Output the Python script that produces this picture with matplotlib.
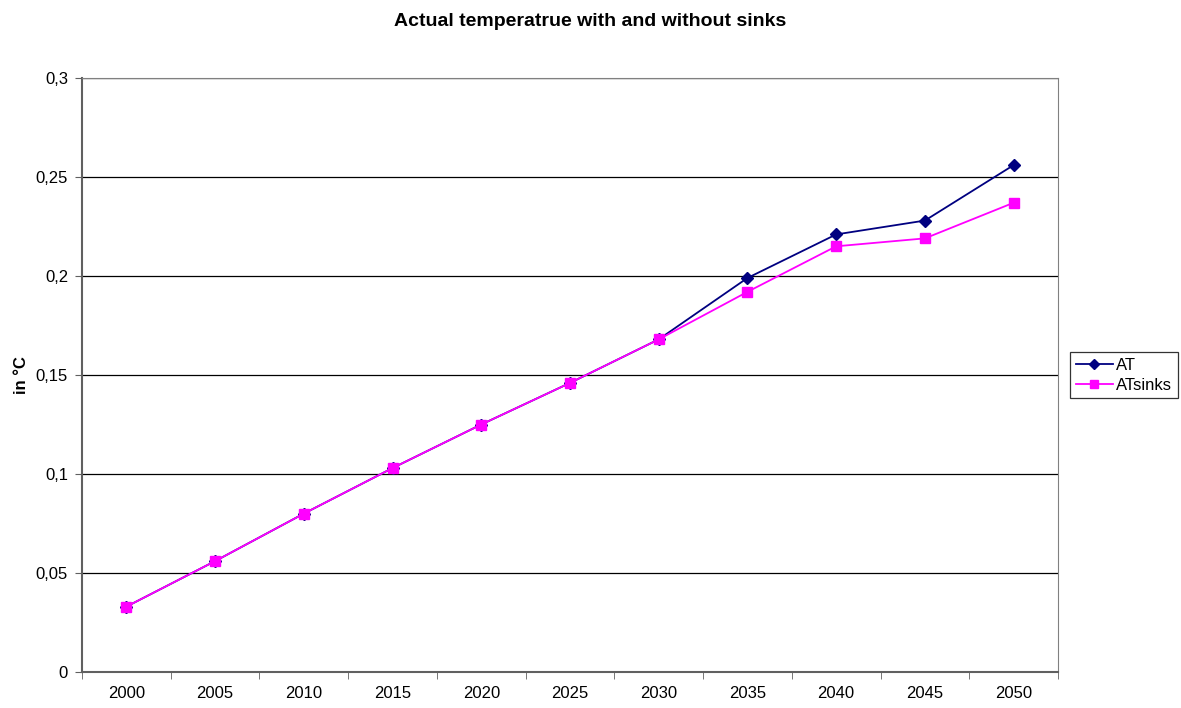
import matplotlib.pyplot as plt
import numpy as np

years = ['2000', '2005', '2010', '2015', '2020', '2025', '2030', '2035', '2040', '2045', '2050']
at = [0.033, 0.056, 0.080, 0.103, 0.125, 0.146, 0.168, 0.199, 0.221, 0.228, 0.256]
at_sinks = [0.033, 0.056, 0.080, 0.103, 0.125, 0.146, 0.168, 0.192, 0.215, 0.219, 0.237]
y_ticks = [0, 0.05, 0.1, 0.15, 0.2, 0.25, 0.3]
y_labels = ['0', '0,05', '0,1', '0,15', '0,2', '0,25', '0,3']

plt.rcParams['font.family'] = ['Liberation Sans', 'DejaVu Sans']

fig = plt.figure(figsize=(11.81, 7.08), dpi=100)
ax = fig.add_axes([82 / 1181, 36 / 708, 976 / 1181, 594 / 708])

x = np.arange(len(years))
ax.plot(x, at, color='#000080', marker='D', markersize=6, linewidth=1.3, label='AT', zorder=3)
ax.plot(x, at_sinks, color='#FF00FF', marker='s', markersize=7, linewidth=1.3, label='ATsinks', zorder=3)

ax.set_xlim(-0.5, len(years) - 0.5)
ax.set_ylim(0, 0.3)
ax.set_yticks(y_ticks)
ax.set_yticklabels(y_labels, fontsize=12)
ax.set_xticks(x)
ax.set_xticklabels(years, fontsize=12)
ax.tick_params(axis='x', which='major', length=0, pad=10)
ax.set_xticks(np.arange(-0.5, len(years)), minor=True)
ax.tick_params(axis='x', which='minor', length=5, color='#606060')
ax.tick_params(axis='y', length=5, color='#606060', pad=5)

ax.grid(axis='y', color='black', linewidth=0.9)
ax.set_axisbelow(True)
for s in ax.spines.values():
    s.set_color('#808080')
    s.set_zorder(2.5)
ax.spines['left'].set_linewidth(1.5)
ax.spines['left'].set_color('#606060')
ax.spines['bottom'].set_linewidth(1.5)
ax.spines['bottom'].set_color('#606060')

ax.set_ylabel('in °C', fontsize=12, fontweight='bold', labelpad=5)
fig.suptitle('Actual temperatrue with and without sinks', fontsize=14, fontweight='bold', y=0.981)

leg = ax.legend(loc='center left', bbox_to_anchor=(1.0123, 0.5), fontsize=12, frameon=True,
                fancybox=False, edgecolor='black', handlelength=2.2, borderpad=0.35,
                labelspacing=0.3, handletextpad=0.2, borderaxespad=0, markerscale=0.85)
leg.get_frame().set_linewidth(0.9)

fig.savefig('out.png', dpi=100)
